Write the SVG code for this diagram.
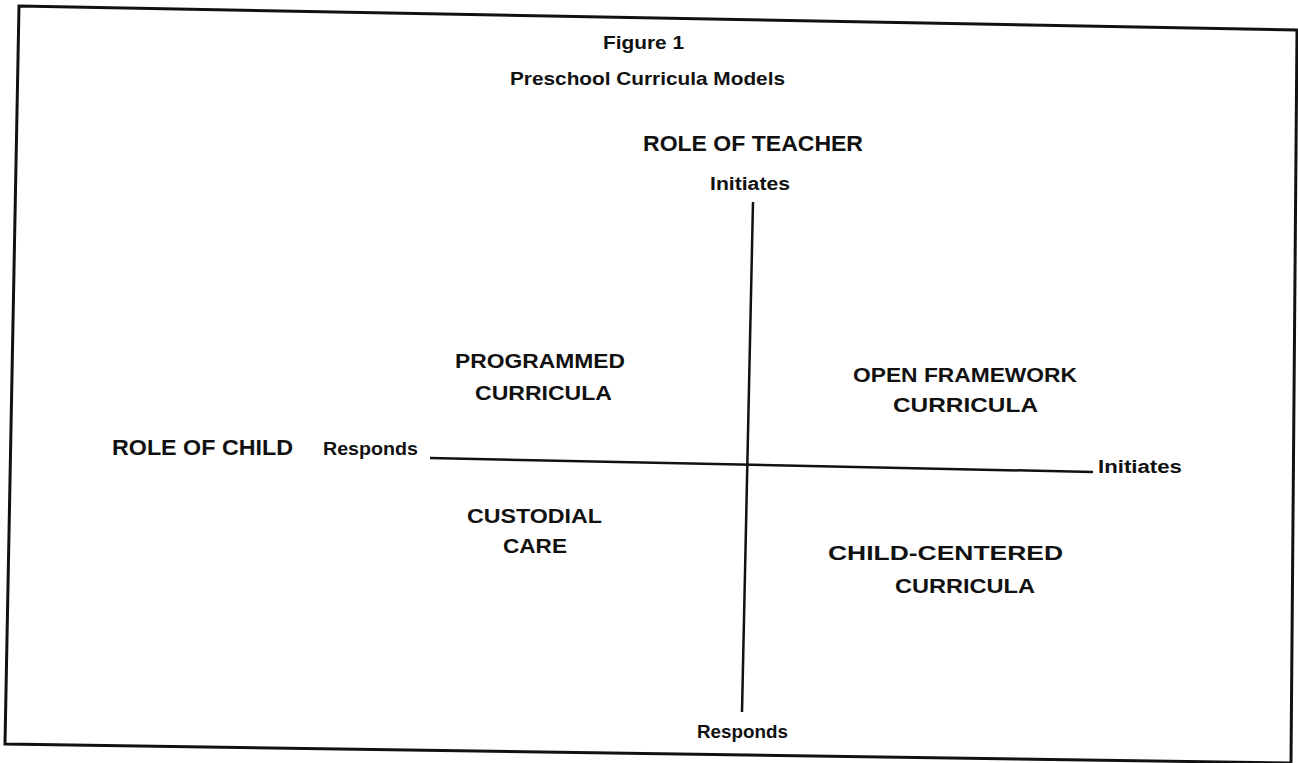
<svg xmlns="http://www.w3.org/2000/svg" width="1298" height="763" viewBox="0 0 1298 763">
<style>
text{font-family:"Liberation Sans",Arial,sans-serif;font-weight:bold;fill:#111;text-anchor:middle}
.axis{stroke:#111;stroke-width:2.5;fill:none}
.frame{stroke:#111;stroke-width:3;fill:none}
.t{font-size:19px}
.h{font-size:22px}
.s{font-size:18px}
.q{font-size:21px}
</style>
<rect width="1298" height="763" fill="#fff"/>
<polygon class="frame" points="19,6 1297,30 1291,763 5,744"/>
<g id="title">
<text class="t" x="643.5" y="49" textLength="81" lengthAdjust="spacingAndGlyphs">Figure 1</text>
<text class="t" x="647.5" y="85" textLength="275" lengthAdjust="spacingAndGlyphs">Preschool Curricula Models</text>
</g>
<g id="connectors">
<line class="axis" x1="753" y1="202" x2="742" y2="712"/>
<line class="axis" x1="430" y1="458" x2="1093" y2="472"/>
</g>
<g id="teacher-axis">
<text class="h" x="753" y="151" textLength="220" lengthAdjust="spacingAndGlyphs">ROLE OF TEACHER</text>
<text class="s" x="750" y="190" textLength="80" lengthAdjust="spacingAndGlyphs">Initiates</text>
<text class="s" x="742.5" y="738" textLength="91" lengthAdjust="spacingAndGlyphs">Responds</text>
</g>
<g id="child-axis">
<text class="h" x="202.5" y="455" textLength="181" lengthAdjust="spacingAndGlyphs">ROLE OF CHILD</text>
<text class="s" x="370.5" y="455" textLength="95" lengthAdjust="spacingAndGlyphs">Responds</text>
<text class="s" x="1140" y="473" textLength="84" lengthAdjust="spacingAndGlyphs">Initiates</text>
</g>
<g id="programmed">
<text class="q" x="540" y="368" textLength="170" lengthAdjust="spacingAndGlyphs">PROGRAMMED</text>
<text class="q" x="543.5" y="400" textLength="137" lengthAdjust="spacingAndGlyphs">CURRICULA</text>
</g>
<g id="open-framework">
<text class="q" x="965" y="382" textLength="224" lengthAdjust="spacingAndGlyphs">OPEN FRAMEWORK</text>
<text class="q" x="965.5" y="412" textLength="145" lengthAdjust="spacingAndGlyphs">CURRICULA</text>
</g>
<g id="custodial">
<text class="q" x="534.5" y="523" textLength="135" lengthAdjust="spacingAndGlyphs">CUSTODIAL</text>
<text class="q" x="535" y="553" textLength="64" lengthAdjust="spacingAndGlyphs">CARE</text>
</g>
<g id="child-centered">
<text class="q" x="945.5" y="560" textLength="235" lengthAdjust="spacingAndGlyphs">CHILD-CENTERED</text>
<text class="q" x="965" y="593" textLength="140" lengthAdjust="spacingAndGlyphs">CURRICULA</text>
</g>
</svg>
